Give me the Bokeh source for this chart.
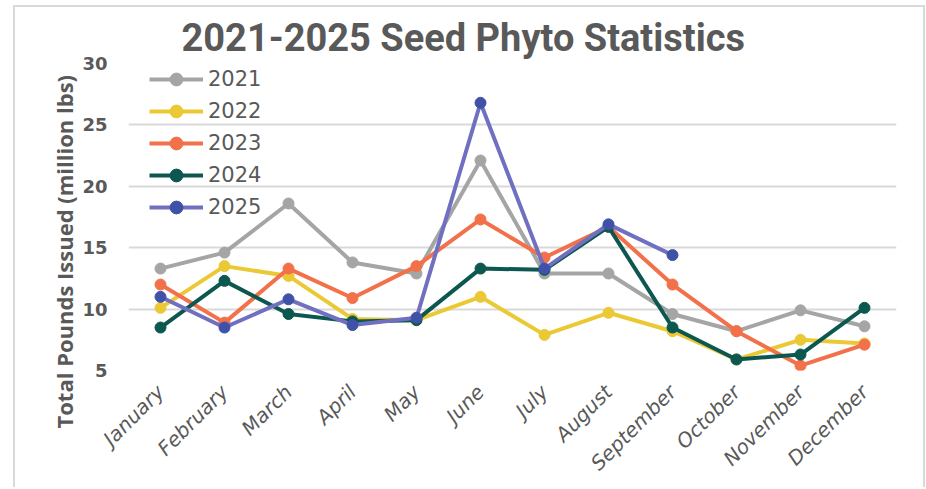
import math
from bokeh.plotting import figure
from bokeh.models import Range1d, FixedTicker, Legend, LegendItem, Title
from bokeh.embed import file_html
from bokeh.resources import INLINE

nan = float("nan")

months = ["January", "February", "March", "April", "May", "June", "July",
          "August", "September", "October", "November", "December"]
years = ["2021", "2022", "2023", "2024", "2025"]
v2021 = [13.3, 14.6, 18.6, 13.8, 12.9, 22.1, 12.9, 12.9, 9.6, 8.2, 9.9, 8.6]
v2022 = [10.1, 13.5, 12.7, 9.2, 9.1, 11.0, 7.9, 9.7, 8.2, 5.9, 7.5, 7.2]
v2023 = [12.0, 8.9, 13.3, 10.9, 13.5, 17.3, 14.2, 16.7, 12.0, 8.2, 5.4, 7.1]
v2024 = [8.5, 12.3, 9.6, 9.0, 9.1, 13.3, 13.2, 16.7, 8.5, 5.9, 6.3, 10.1]
v2025 = [11.0, 8.5, 10.8, 8.7, 9.3, 26.8, 13.3, 16.9, 14.4, nan, nan, nan]
y_ticks = [5, 10, 15, 20, 25, 30]

series = [v2021, v2022, v2023, v2024, v2025]
line_colors = ["#A5A5A5", "#EBC934", "#F2714A", "#0C5750", "#7170C0"]
marker_colors = ["#A5A5A5", "#EBC934", "#F2714A", "#0C5750", "#3F52A8"]

TXT = "#595959"

p = figure(x_range=months, y_range=Range1d(5, 30), width=912, height=482,
           output_backend="svg", toolbar_location=None,
           min_border_left=113, min_border_right=31, min_border_top=56,
           min_border_bottom=119)
p.margin = (5, 0, 0, 13)
p.styles = {"border-left": "2px solid #D9D9D9", "border-top": "2px solid #D9D9D9",
            "border-right": "2px solid #D9D9D9"}
p.outline_line_color = None
p.xgrid.grid_line_color = None
p.ygrid.grid_line_color = "#D9D9D9"
p.ygrid.grid_line_width = 2
p.yaxis.ticker = FixedTicker(ticks=y_ticks)
p.yaxis.axis_line_color = None
p.yaxis.major_tick_line_color = None
p.yaxis.minor_tick_line_color = None
p.yaxis.major_label_standoff = 15
p.yaxis.major_label_text_font = "DejaVu Sans"
p.yaxis.major_label_text_font_style = "bold"
p.yaxis.major_label_text_font_size = "18px"
p.yaxis.major_label_text_color = TXT

p.xaxis.axis_line_color = None
p.xaxis.major_tick_line_color = None
p.xaxis.major_label_orientation = math.pi / 4
p.xaxis.major_label_standoff = 12
p.xaxis.major_label_text_font = "DejaVu Sans"
p.xaxis.major_label_text_font_style = "italic"
p.xaxis.major_label_text_font_size = "20px"
p.xaxis.major_label_text_color = TXT

items = []
for name, vals, lc, mc in zip(years, series, line_colors, marker_colors):
    r1 = p.line(months, vals, line_color=lc, line_width=4)
    r2 = p.scatter(months, vals, size=11, fill_color=mc, line_color=mc)
    items.append(LegendItem(label=name, renderers=[r1, r2]))

legend = Legend(items=items, location=(21, 147), padding=0, margin=0,
                spacing=0, glyph_width=54, glyph_height=32, label_height=32,
                label_standoff=5, label_text_font="DejaVu Sans",
                label_text_font_size="21px", label_text_color=TXT,
                background_fill_alpha=0, border_line_color=None)
p.add_layout(legend, "center")

p.title.text = "2021-2025 Seed Phyto Statistics"
p.title.align = "left"
p.title.offset = 53
p.title.text_font = "Roboto"
p.title.text_font_style = "bold"
p.title.text_font_size = "38px"
p.title.text_color = TXT
p.title.standoff = 8

ylab = Title(text="Total Pounds Issued (million lbs)", align="left", offset=-58,
             text_font="Open Sans", text_font_style="bold",
             text_font_size="22px", text_color=TXT, standoff=2)
p.add_layout(ylab, "left")

open("out.html", "w").write(file_html(p, INLINE))
